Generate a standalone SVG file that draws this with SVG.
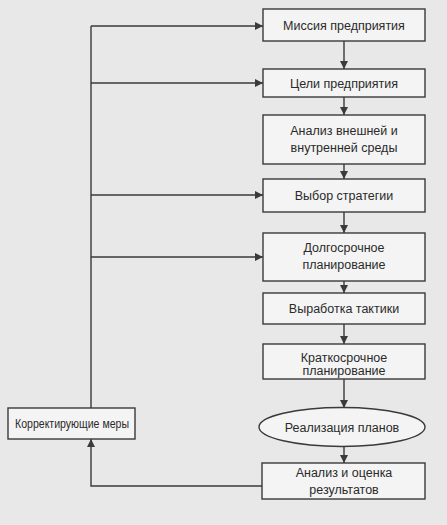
<svg xmlns="http://www.w3.org/2000/svg" width="447" height="525" viewBox="0 0 447 525">
<defs>
<style>
.box{fill:#f4f4f4;stroke:#3a3a3a;stroke-width:1.4}
.t{font-family:"Liberation Sans",Arial,sans-serif;font-size:12.5px;fill:#2a2a2a;text-anchor:middle}
.ln{fill:none;stroke:#3a3a3a;stroke-width:1.4}
</style>
<marker id="ah" viewBox="0 0 10 10" refX="10" refY="5" markerWidth="8" markerHeight="8" markerUnits="userSpaceOnUse" orient="auto">
<path d="M0,0 L10,5 L0,10 z" fill="#3a3a3a"/>
</marker>
</defs>
<rect width="447" height="525" fill="#e8e8e8"/>
<g id="connectors">
<path class="ln" d="M91,408 V26"/>
<path class="ln" d="M91,26 H263" marker-end="url(#ah)"/>
<path class="ln" d="M91,83 H263" marker-end="url(#ah)"/>
<path class="ln" d="M91,195 H263" marker-end="url(#ah)"/>
<path class="ln" d="M91,257 H263" marker-end="url(#ah)"/>
<path class="ln" d="M344,41 V69" marker-end="url(#ah)"/>
<path class="ln" d="M344,97 V115" marker-end="url(#ah)"/>
<path class="ln" d="M344,164 V179" marker-end="url(#ah)"/>
<path class="ln" d="M344,212 V233" marker-end="url(#ah)"/>
<path class="ln" d="M344,281 V293" marker-end="url(#ah)"/>
<path class="ln" d="M344,324 V344" marker-end="url(#ah)"/>
<path class="ln" d="M344,379 V408" marker-end="url(#ah)"/>
<path class="ln" d="M344,446 V463" marker-end="url(#ah)"/>
<path class="ln" d="M262,486 H91 V439" marker-end="url(#ah)"/>
</g>
<g id="n1"><rect class="box" x="263" y="9" width="162" height="32"/><text class="t" x="344" y="29.5">Миссия предприятия</text></g>
<g id="n2"><rect class="box" x="263" y="69" width="162" height="28"/><text class="t" x="344" y="87.5">Цели предприятия</text></g>
<g id="n3"><rect class="box" x="263" y="115" width="162" height="49"/><text class="t" x="344" y="135">Анализ внешней и</text><text class="t" x="344" y="152">внутренней среды</text></g>
<g id="n4"><rect class="box" x="263" y="179" width="162" height="33"/><text class="t" x="344" y="199.5">Выбор стратегии</text></g>
<g id="n5"><rect class="box" x="263" y="233" width="162" height="48"/><text class="t" x="344" y="252">Долгосрочное</text><text class="t" x="344" y="269">планирование</text></g>
<g id="n6"><rect class="box" x="263" y="293" width="162" height="31"/><text class="t" x="344" y="312.5">Выработка тактики</text></g>
<g id="n7"><rect class="box" x="263" y="344" width="162" height="35"/><text class="t" x="344" y="362">Краткосрочное</text><text class="t" x="344" y="375">планирование</text></g>
<g id="n8"><ellipse class="box" cx="342" cy="427" rx="83" ry="19.5"/><text class="t" x="342" y="431.5">Реализация планов</text></g>
<g id="n9"><rect class="box" x="262" y="463" width="163" height="36"/><text class="t" x="344" y="477">Анализ и оценка</text><text class="t" x="344" y="494">результатов</text></g>
<g id="n10"><rect class="box" x="8" y="408" width="127" height="31"/><text class="t" x="72" y="427.5" style="font-size:12px" textLength="114" lengthAdjust="spacingAndGlyphs">Корректирующие меры</text></g>
</svg>
